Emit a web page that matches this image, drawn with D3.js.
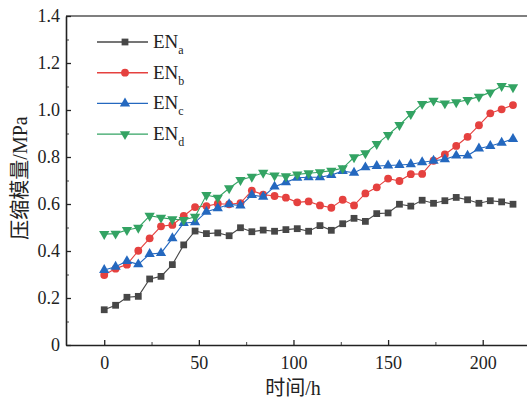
<!DOCTYPE html>
<html>
<head>
<meta charset="utf-8">
<script src="https://cdn.jsdelivr.net/npm/d3@7"></script>
<style>
  body { margin: 0; background: #fff; }
  svg text { font-family: "Liberation Serif", "Noto Sans CJK SC", serif; fill: #222; }
</style>
</head>
<body>
<div class="chart"></div>
<script>
// sampling times (h), one point every 6 h
var hours = d3.range(0, 217, 6);

var enA = [0.150, 0.169, 0.203, 0.207, 0.281, 0.292, 0.342, 0.426, 0.485, 0.474,
  0.477, 0.465, 0.499, 0.482, 0.489, 0.484, 0.491, 0.495, 0.484, 0.508,
  0.488, 0.516, 0.539, 0.526, 0.559, 0.562, 0.599, 0.591, 0.616, 0.603,
  0.614, 0.628, 0.618, 0.603, 0.614, 0.609, 0.599];
var enB = [0.298, 0.325, 0.342, 0.401, 0.454, 0.505, 0.511, 0.549, 0.587, 0.591,
  0.601, 0.599, 0.604, 0.657, 0.640, 0.634, 0.627, 0.607, 0.611, 0.594,
  0.584, 0.618, 0.594, 0.645, 0.671, 0.708, 0.698, 0.727, 0.728, 0.784,
  0.811, 0.847, 0.886, 0.935, 0.986, 1.003, 1.021];
var enC = [0.319, 0.333, 0.357, 0.343, 0.387, 0.391, 0.454, 0.519, 0.522, 0.567,
  0.582, 0.599, 0.593, 0.638, 0.631, 0.674, 0.692, 0.712, 0.714, 0.714,
  0.723, 0.740, 0.733, 0.756, 0.762, 0.764, 0.766, 0.769, 0.778, 0.784,
  0.790, 0.806, 0.806, 0.836, 0.847, 0.861, 0.877];
var enD = [0.472, 0.474, 0.489, 0.499, 0.550, 0.542, 0.535, 0.532, 0.546, 0.638,
  0.627, 0.667, 0.702, 0.716, 0.733, 0.721, 0.718, 0.726, 0.731, 0.735,
  0.742, 0.752, 0.799, 0.816, 0.855, 0.894, 0.936, 0.983, 1.026, 1.040,
  1.028, 1.033, 1.043, 1.057, 1.075, 1.102, 1.097];

var seriesNames = ["a", "b", "c", "d"];
var xTicks = [0, 50, 100, 150, 200];
var xMinor = [25, 75, 125, 175];
var yTicks = [0, 0.2, 0.4, 0.6, 0.8, 1.0, 1.2, 1.4];
var yMinor = [0.1, 0.3, 0.5, 0.7, 0.9, 1.1, 1.3];

var w = 527,
  h = 400,
  padLeft = 66,
  padRight = 527,
  padTop = 16,
  padBottom = 345;

var series = [
  { name: seriesNames[0], values: enA, color: "#474747", symbol: d3.symbolSquare, size: 46, rot: 0 },
  { name: seriesNames[1], values: enB, color: "#e5413f", symbol: d3.symbolCircle, size: 48, rot: 0 },
  { name: seriesNames[2], values: enC, color: "#2468bf", symbol: d3.symbolTriangle, size: 46, rot: 0 },
  { name: seriesNames[3], values: enD, color: "#33a363", symbol: d3.symbolTriangle, size: 46, rot: 180 }
];

var svg = d3.select(".chart").append("svg").attr("width", w).attr("height", h);

var x = d3.scaleLinear().domain([-20.2, 223.4]).range([padLeft, padRight]);
var y = d3.scaleLinear().domain([0, 1.4]).range([padBottom, padTop]);

// top frame line
svg.append("line")
  .attr("x1", padLeft).attr("x2", padRight)
  .attr("y1", padTop).attr("y2", padTop)
  .attr("stroke", "#555").attr("stroke-width", 1.5);

// minor ticks
svg.append("g")
  .attr("transform", "translate(0," + padBottom + ")")
  .call(d3.axisBottom(x).tickValues(xMinor).tickSize(-3).tickFormat(""))
  .call((g) => g.select(".domain").remove())
  .selectAll("line").attr("stroke", "#444");
svg.append("g")
  .attr("transform", "translate(" + padLeft + ",0)")
  .call(d3.axisLeft(y).tickValues(yMinor).tickSize(-3).tickFormat(""))
  .call((g) => g.select(".domain").remove())
  .selectAll("line").attr("stroke", "#444");

var xAxis = svg.append("g")
  .attr("transform", "translate(0," + padBottom + ")")
  .call(d3.axisBottom(x).tickValues(xTicks).tickSize(-5).tickPadding(8).tickSizeOuter(0));
var yAxis = svg.append("g")
  .attr("transform", "translate(" + padLeft + ",0)")
  .call(d3.axisLeft(y).tickValues(yTicks).tickSize(-5).tickPadding(6).tickSizeOuter(0)
    .tickFormat((d) => (d === 0 ? "0" : d3.format(".1f")(d))));

[xAxis, yAxis].forEach(function (g) {
  g.select(".domain").attr("stroke", "#222").attr("stroke-width", 1.6);
  g.selectAll(".tick line").attr("stroke", "#222").attr("stroke-width", 1.3);
  g.selectAll("text").style("font-size", "18px").attr("fill", "#222");
});
xAxis.selectAll("text").attr("dy", "0.9em");

// axis titles
svg.append("text")
  .attr("x", 293).attr("y", 395)
  .attr("text-anchor", "middle")
  .style("font-size", "20px")
  .text("时间/h");
svg.append("text")
  .attr("transform", "translate(27,178) rotate(-90)")
  .attr("text-anchor", "middle")
  .style("font-size", "20px")
  .text("压缩模量/MPa");

// series
var line = d3.line().x((d, i) => x(hours[i])).y((d) => y(d));

series.forEach(function (s) {
  svg.append("path")
    .datum(s.values)
    .attr("fill", "none")
    .attr("stroke", s.color)
    .attr("stroke-width", 1.1)
    .attr("d", line);

  svg.append("g")
    .selectAll("path")
    .data(s.values)
    .enter()
    .append("path")
    .attr("d", d3.symbol().type(s.symbol).size(s.size))
    .attr("transform", (d, i) => "translate(" + x(hours[i]) + "," + y(d) + ") rotate(" + s.rot + ")")
    .attr("fill", s.color);
});

// legend
var legend = svg.append("g")
  .selectAll("g")
  .data(series)
  .enter()
  .append("g")
  .attr("transform", (d, i) => "translate(0," + (42 + i * 30.7) + ")");

legend.append("line")
  .attr("x1", 97).attr("x2", 148)
  .attr("stroke", (d) => d.color)
  .attr("stroke-width", 1.4);
legend.append("path")
  .attr("d", (d) => d3.symbol().type(d.symbol).size(d.size)())
  .attr("transform", (d) => "translate(125,0) rotate(" + d.rot + ")")
  .attr("fill", (d) => d.color);

var lt = legend.append("text")
  .attr("x", 153).attr("y", 6)
  .style("font-size", "19px");
lt.append("tspan").text("EN");
lt.append("tspan")
  .attr("dy", 6)
  .style("font-size", "12px")
  .text((d) => d.name);
</script>
</body>
</html>
